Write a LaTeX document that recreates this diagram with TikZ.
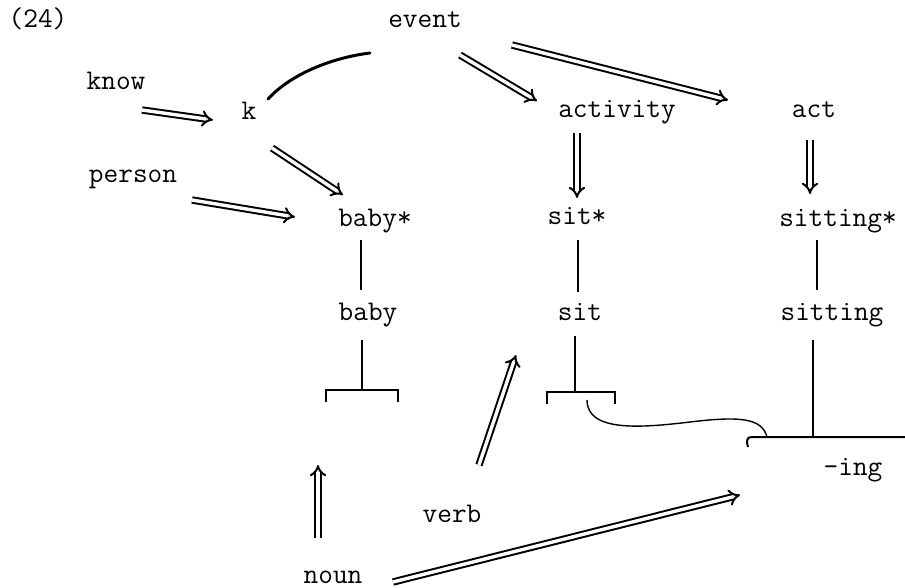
\documentclass[tikz,border=0pt]{standalone}
\usepackage{fontspec}
\usetikzlibrary{arrows.meta}
\begin{document}
\begin{tikzpicture}[x=1pt,y=-1pt,
  lbl/.style={anchor=base,inner sep=0pt,font=\ttfamily\fontsize{28.5}{32}\selectfont\addfontfeatures{FakeBold=0.8}},
  dbl/.style={double,double distance=3.4pt,line width=2pt,-{Implies[length=9pt]}},
  thin/.style={line width=2pt},
  thick/.style={line width=3pt,line cap=round}]
\useasboundingbox (0,0) rectangle (905,588);
% labels
\node[lbl] (n24) at (38,28) {(24)};
\node[lbl] (event) at (425,28) {event};
\node[lbl] (know) at (116,90) {know};
\node[lbl] (k) at (249,120) {k};
\node[lbl] (person) at (133,183) {person};
\node[lbl] (babys) at (375,227) {baby*};
\node[lbl] (activity) at (617,118) {activity};
\node[lbl] (act) at (814,118) {act};
\node[lbl] (sits) at (577,225) {sit*};
\node[lbl] (sittings) at (838,226) {sitting*};
\node[lbl] (baby) at (368,320) {baby};
\node[lbl] (sit) at (580,320) {sit};
\node[lbl] (sitting) at (832,320) {sitting};
\node[lbl] (ing) at (853,475) {-ing};
\node[lbl] (verb) at (452,522) {verb};
\node[lbl] (noun) at (333,583) {noun};
% arrow end points
\coordinate (knowE) at (142,110);  \coordinate (kW) at (213,120);
\coordinate (kSE) at (272,148);    \coordinate (babysNW) at (343,195);
\coordinate (personE) at (192,200); \coordinate (babysW) at (295,217);
\coordinate (eventS) at (460,55);  \coordinate (activityNW) at (537,101);
\coordinate (eventE) at (512,45);  \coordinate (actW) at (728,100);
\coordinate (activityS) at (577,133); \coordinate (sitsN) at (577,198);
\coordinate (actS) at (810,140);   \coordinate (sittingsN) at (810,194);
\coordinate (verbN) at (479,465);  \coordinate (sitSW) at (516,355);
\coordinate (nounN) at (318,538);  \coordinate (babyT) at (318,465);
\coordinate (nounE) at (393,582);  \coordinate (ingW) at (740,495);
\coordinate (kNE) at (268,99);     \coordinate (eventSW) at (370,53);
% double arrows
\draw[dbl] (knowE) -- (kW);
\draw[dbl] (kSE) -- (babysNW);
\draw[dbl] (personE) -- (babysW);
\draw[dbl] (eventS) -- (activityNW);
\draw[dbl] (eventE) -- (actW);
\draw[dbl] (activityS) -- (sitsN);
\draw[dbl] (actS) -- (sittingsN);
\draw[dbl] (verbN) -- (sitSW);
\draw[dbl] (nounN) -- (babyT);
\draw[dbl] (nounE) -- (ingW);
% k -- event curve
\draw[thick] (kNE) .. controls (290,75) and (330,58) .. (eventSW);
% vertical links
\draw[thin] (361,240) -- (361,290);
\draw[thin] (578,240) -- (578,292);
\draw[thin] (817,240) -- (817,290);
% baby tree
\coordinate (babyTop) at (362,340);
\coordinate (babyJ) at (362,390);
\draw[thin] (babyTop) -- (babyJ);
\draw[thin] (326,402) -- (326,390) -- (398,390) -- (398,402);
% sit tree
\coordinate (sitTop) at (575,336);
\coordinate (sitJ) at (575,392);
\draw[thin] (sitTop) -- (sitJ);
\draw[thin] (547,404) -- (547,392) -- (615,392) -- (615,404);
% -ing tree
\coordinate (sittingTop) at (813,340);
\coordinate (ingJ) at (813,437);
\draw[thin] (sittingTop) -- (ingJ);
\draw[thin] (748,447) .. controls (746,440) and (747,437) .. (752,437) -- (905,437);
% connecting curve
\draw[line width=1.4pt] (587,400) .. controls (587,432) and (640,428) .. (690,422)
  .. controls (740,416) and (762,418) .. (767,437);
\end{tikzpicture}
\end{document}
